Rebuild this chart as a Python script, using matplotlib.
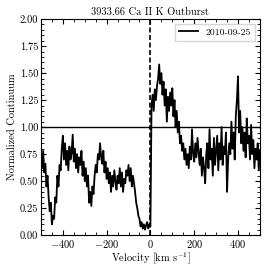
import matplotlib
matplotlib.use("Agg")
import matplotlib.pyplot as plt
import numpy as np

plt.rcParams['font.family'] = 'serif'
plt.rcParams['font.serif'] = ['cmr10']
plt.rcParams['mathtext.fontset'] = 'cm'
plt.rcParams['axes.formatter.use_mathtext'] = True
plt.rcParams['font.size'] = 7.5

# velocidad (km/s), paso de 5
velocidad = np.arange(-500, 505, 5)

flujo = [
    0.75, 0.62, 0.78, 0.58, 0.66, 0.45, 0.55, 0.35, 0.22, 0.30,
    0.10, 0.18, 0.15, 0.35, 0.30, 0.55, 0.45, 0.65, 0.60, 0.80,
    0.92, 0.70, 0.85, 0.65, 0.78, 0.60, 0.82, 0.70, 0.76, 0.93,
    0.68, 0.80, 0.62, 0.75, 0.58, 0.72, 0.65, 0.78, 0.55, 0.68,
    0.50, 0.62, 0.45, 0.55, 0.30, 0.40, 0.27, 0.45, 0.38, 0.55,
    0.65, 0.58, 0.75, 0.70, 0.85, 0.72, 0.66, 0.78, 0.58, 0.68,
    0.52, 0.62, 0.48, 0.58, 0.40, 0.55, 0.45, 0.60, 0.50, 0.42,
    0.55, 0.48, 0.62, 0.45, 0.58, 0.40, 0.52, 0.48, 0.60, 0.55,
    0.65, 0.50, 0.62, 0.45, 0.55, 0.48, 0.40, 0.30, 0.25, 0.18,
    0.15, 0.08, 0.12, 0.06, 0.10, 0.05, 0.09, 0.12, 0.06, 0.10,
    0.08, 1.20, 1.30, 1.15, 1.35, 1.25, 1.38, 1.45, 1.58, 1.40,
    1.50, 1.30, 1.42, 1.20, 1.35, 1.05, 1.28, 1.15, 1.32, 1.20,
    1.36, 1.10, 1.25, 1.00, 1.15, 0.95, 1.05, 0.85, 0.92, 0.78,
    0.85, 0.70, 0.80, 0.65, 0.75, 0.62, 0.82, 0.70, 0.98, 0.75,
    0.68, 0.85, 0.72, 0.90, 0.78, 0.65, 0.80, 0.55, 0.72, 0.62,
    0.48, 0.75, 0.85, 0.62, 0.98, 0.70, 0.80, 0.55, 0.90, 0.65,
    0.78, 0.92, 0.60, 0.85, 0.70, 1.00, 0.65, 0.82, 0.75, 0.95,
    0.40, 0.70, 0.85, 0.75, 1.05, 0.80, 0.95, 0.70, 1.10, 1.25,
    1.47, 0.95, 1.15, 0.85, 1.00, 0.78, 0.95, 0.72, 1.08, 0.85,
    0.92, 0.70, 1.02, 0.75, 0.88, 0.62, 0.80, 0.70, 0.85, 0.60,
    0.78,
]
fecha = "2010-09-25"

fig = plt.figure(figsize=(2.66, 2.69), dpi=100)
ax = fig.add_axes([0.154, 0.126, 0.823, 0.803])

ax.plot(velocidad, flujo, color='black', lw=1.3, label=fecha)
ax.axhline(1.0, color='black', lw=1.0)
ax.axvline(0, color='black', lw=1.2, ls=(0, (3, 1.5)))

ax.set_xlim(-500, 500)
ax.set_ylim(0, 2)
ax.set_yticks(np.arange(0, 2.01, 0.25))
ax.yaxis.set_major_formatter(matplotlib.ticker.FormatStrFormatter('%.2f'))
ax.minorticks_on()
ax.tick_params(which='both', direction='in', top=True, right=True, pad=2)
ax.tick_params(which='major', length=3.5)
ax.tick_params(which='minor', length=2)

ax.set_xlabel(r"Velocity [km s$^{-1}$]", labelpad=1)
ax.set_ylabel("Normalized Continuum", labelpad=2)
ax.set_title("3933.66 Ca II K Outburst", fontsize=7.5, pad=3)
ax.legend(loc='upper right', fontsize=7, fancybox=False)

fig.savefig("out.png", dpi=100)
